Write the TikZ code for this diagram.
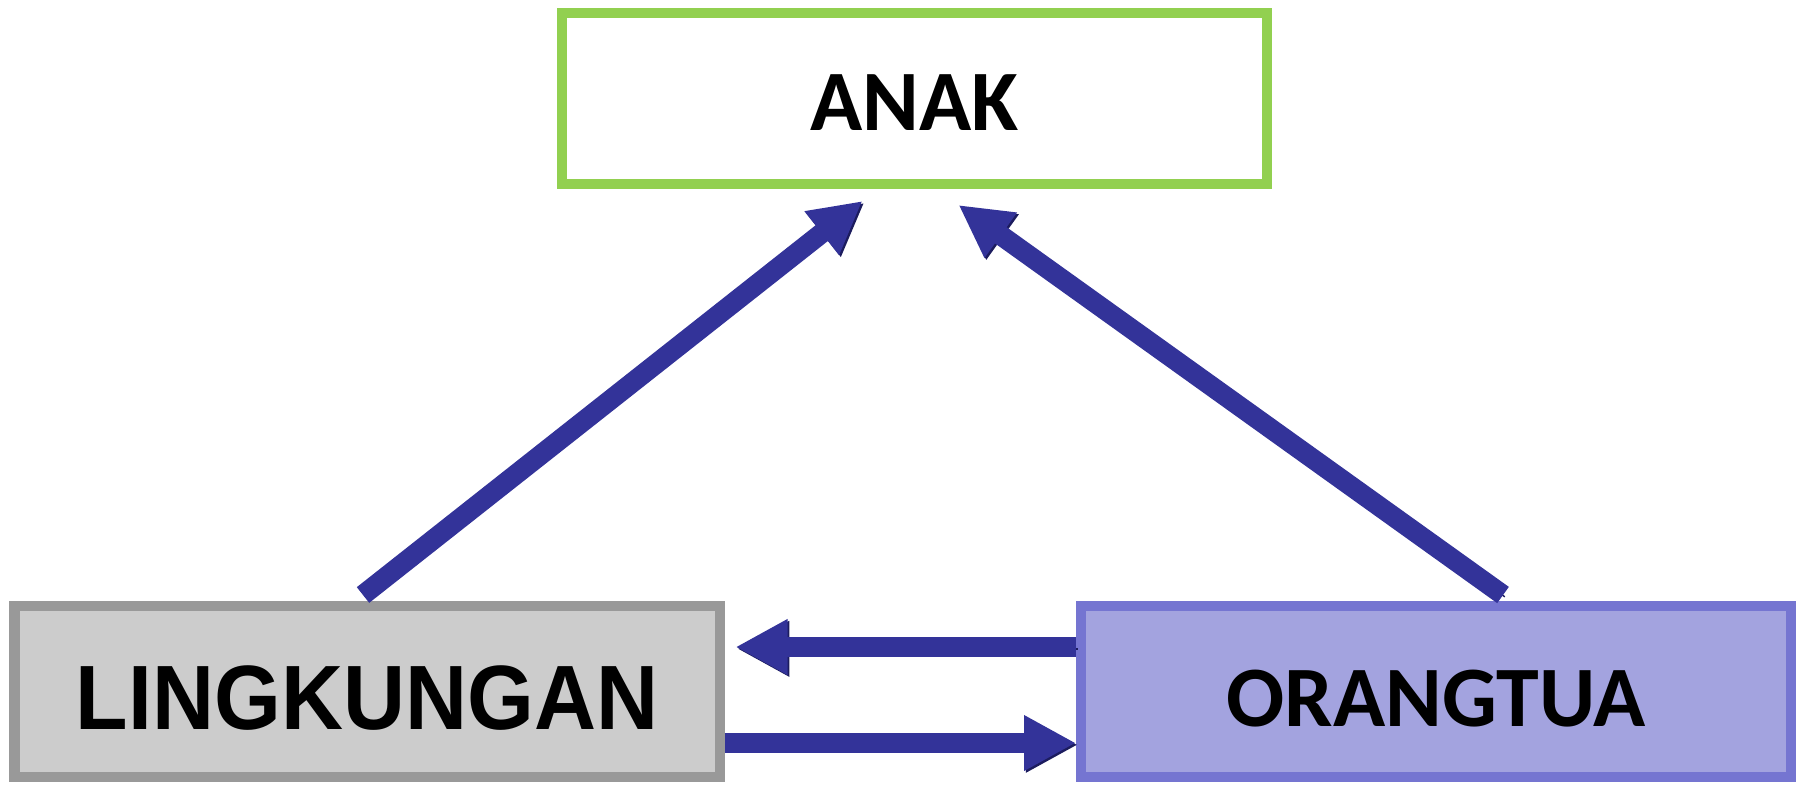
\documentclass[tikz,border=0pt]{standalone}
\usepackage{fontspec}
\newfontfamily\calibfont{Carlito}
\newfontfamily\arialfont{Liberation Sans}
\usepackage{graphicx}
\definecolor{anakgreen}{HTML}{92D050}
\definecolor{lingborder}{HTML}{999999}
\definecolor{lingfill}{HTML}{CCCCCC}
\definecolor{ortuborder}{HTML}{7575D1}
\definecolor{ortufill}{HTML}{A3A3DF}
\definecolor{arrblue}{HTML}{333399}
\definecolor{arrshade}{HTML}{1C1C5E}
\usetikzlibrary{arrows.meta,positioning,calc}
\newcommand{\turun}[2]{\raisebox{-#1}[\height][\depth]{#2}}
\tikzset{
	box/.style    = {rectangle,line width=0.1cm,minimum width=7.05cm,
		minimum height=1.71cm,align=center,inner sep=0pt},
	anakbox/.style= {box,draw=anakgreen,fill=white,
		font=\fontsize{24.5}{29}\selectfont\calibfont\bfseries},
	lingbox/.style= {box,draw=lingborder,fill=lingfill,
		font=\fontsize{26}{31}\selectfont\arialfont\bfseries},
	ortubox/.style= {box,draw=ortuborder,fill=ortufill,minimum width=7.1cm,
		font=\fontsize{24.5}{29}\selectfont\calibfont\bfseries},
	arr/.style    = {-{Triangle[width=0.52cm,length=0.52cm]},line width=0.2cm,
		arrblue,preaction={draw=arrshade,
			transform canvas={shift={(0.018,-0.018)}}}},
}

\begin{document}
\begin{tikzpicture}
		\useasboundingbox (0,0) rectangle (18.02,7.84);
		%% Kotak
		\node (anak) [anakbox] at (9.145,6.855) {\turun{0.04cm}{ANAK}};
		\node (ling) [lingbox] at (3.67,0.925)
		{\turun{0.066cm}{\scalebox{0.94}[1]{LINGKUNGAN}}};
		\node (ortu) [ortubox] at (14.36,0.925) {\turun{0.066cm}{ORANGTUA}};
		
		%% Panah
		\draw[arr]([xshift=-0.04cm,yshift=0.06cm]ling.north)
		--([xshift=-0.52cm,yshift=-0.12cm]anak.south);
		\draw[arr]([xshift=0.67cm,yshift=0.06cm]ortu.north)
		--([xshift=0.44cm,yshift=-0.16cm]anak.south);
		\draw[arr]([yshift=0.445cm]ortu.west)
		--([xshift=0.11cm,yshift=0.445cm]ling.east);
		\draw[arr]([yshift=-0.515cm]ling.east)
		--([yshift=-0.515cm]ortu.west);
	\end{tikzpicture}
\end{document}
